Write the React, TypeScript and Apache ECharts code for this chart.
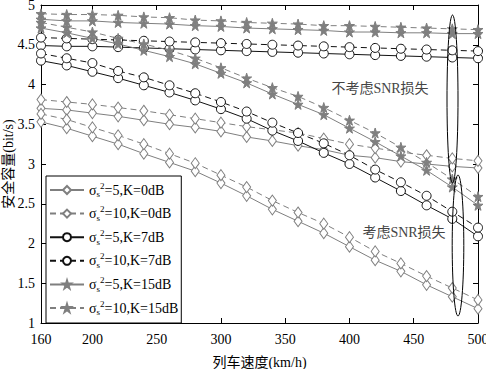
import React, { useEffect, useRef } from "react";
import * as echarts from "echarts";

const speeds = [160, 180, 200, 220, 240, 260, 280, 300, 320, 340, 360, 380, 400, 420, 440, 460, 480, 500];
const xTicks = [160, 200, 250, 300, 350, 400, 450, 500];

const s5k0Ideal = [3.70, 3.68, 3.64, 3.60, 3.55, 3.50, 3.46, 3.41, 3.34, 3.29, 3.23, 3.18, 3.11, 3.08, 3.03, 3.00, 2.97, 2.95];
const s10k0Ideal = [3.81, 3.78, 3.75, 3.71, 3.67, 3.62, 3.57, 3.52, 3.47, 3.43, 3.39, 3.32, 3.25, 3.20, 3.15, 3.11, 3.07, 3.04];
const s5k0Loss = [3.53, 3.45, 3.35, 3.25, 3.13, 3.02, 2.91, 2.76, 2.60, 2.43, 2.28, 2.13, 1.96, 1.79, 1.65, 1.48, 1.33, 1.18];
const s10k0Loss = [3.63, 3.56, 3.46, 3.36, 3.25, 3.13, 3.01, 2.86, 2.71, 2.54, 2.39, 2.25, 2.08, 1.90, 1.75, 1.59, 1.44, 1.29];
const s5k7Ideal = [4.49, 4.48, 4.48, 4.47, 4.46, 4.45, 4.44, 4.43, 4.42, 4.41, 4.40, 4.39, 4.38, 4.37, 4.36, 4.35, 4.34, 4.33];
const s10k7Ideal = [4.59, 4.58, 4.57, 4.56, 4.55, 4.54, 4.53, 4.52, 4.51, 4.50, 4.49, 4.48, 4.47, 4.46, 4.45, 4.44, 4.43, 4.42];
const s5k7Loss = [4.30, 4.24, 4.16, 4.08, 3.99, 3.90, 3.80, 3.69, 3.57, 3.42, 3.29, 3.14, 3.00, 2.83, 2.66, 2.48, 2.31, 2.09];
const s10k7Loss = [4.39, 4.33, 4.27, 4.17, 4.09, 3.99, 3.89, 3.78, 3.66, 3.52, 3.39, 3.26, 3.11, 2.93, 2.77, 2.60, 2.40, 2.20];
const s5k15Ideal = [4.82, 4.80, 4.80, 4.78, 4.77, 4.76, 4.74, 4.73, 4.71, 4.70, 4.69, 4.68, 4.66, 4.66, 4.65, 4.65, 4.64, 4.64];
const s10k15Ideal = [4.89, 4.88, 4.88, 4.87, 4.85, 4.84, 4.81, 4.80, 4.78, 4.77, 4.76, 4.74, 4.74, 4.73, 4.72, 4.71, 4.70, 4.69];
const s5k15Loss = [4.71, 4.65, 4.58, 4.51, 4.43, 4.35, 4.26, 4.14, 4.02, 3.88, 3.75, 3.62, 3.45, 3.28, 3.10, 2.92, 2.71, 2.48];
const s10k15Loss = [4.78, 4.72, 4.66, 4.58, 4.51, 4.43, 4.33, 4.21, 4.08, 3.96, 3.85, 3.71, 3.55, 3.39, 3.21, 3.02, 2.81, 2.59];

const legendNames = ["s5k0", "s10k0", "s5k7", "s10k7", "s5k15", "s10k15"];
const legendLabels: Record<string, [string, string]> = {
  s5k0: ["5", "0"],
  s10k0: ["10", "0"],
  s5k7: ["5", "7"],
  s10k7: ["10", "7"],
  s5k15: ["5", "15"],
  s10k15: ["10", "15"],
};

const FONT = "'Liberation Serif', 'Times New Roman', 'Noto Sans CJK SC', serif";
const GRAY = "#7f7f7f";
const BLACK = "#111111";
const STAR = "path://M50,0 L61,35 L98,35 L68,57 L79,91 L50,70 L21,91 L32,57 L2,35 L39,35 Z";

type Cfg = { name: string; data: number[]; color: string; dashed: boolean; symbol: string; size: any; fill: string };

const cfgs: Cfg[] = [
  { name: "s5k0", data: s5k0Ideal, color: GRAY, dashed: false, symbol: "diamond", size: [8, 11], fill: "#fff" },
  { name: "s5k0", data: s5k0Loss, color: GRAY, dashed: false, symbol: "diamond", size: [8, 11], fill: "#fff" },
  { name: "s10k0", data: s10k0Ideal, color: GRAY, dashed: true, symbol: "diamond", size: [8, 11], fill: "#fff" },
  { name: "s10k0", data: s10k0Loss, color: GRAY, dashed: true, symbol: "diamond", size: [8, 11], fill: "#fff" },
  { name: "s5k7", data: s5k7Ideal, color: BLACK, dashed: false, symbol: "circle", size: 9, fill: "#fff" },
  { name: "s5k7", data: s5k7Loss, color: BLACK, dashed: false, symbol: "circle", size: 9, fill: "#fff" },
  { name: "s10k7", data: s10k7Ideal, color: BLACK, dashed: true, symbol: "circle", size: 9, fill: "#fff" },
  { name: "s10k7", data: s10k7Loss, color: BLACK, dashed: true, symbol: "circle", size: 9, fill: "#fff" },
  { name: "s5k15", data: s5k15Ideal, color: GRAY, dashed: false, symbol: STAR, size: 10, fill: GRAY },
  { name: "s5k15", data: s5k15Loss, color: GRAY, dashed: false, symbol: STAR, size: 10, fill: GRAY },
  { name: "s10k15", data: s10k15Ideal, color: GRAY, dashed: true, symbol: STAR, size: 10, fill: GRAY },
  { name: "s10k15", data: s10k15Loss, color: GRAY, dashed: true, symbol: STAR, size: 10, fill: GRAY },
];

export default function App() {
  const ref = useRef<HTMLDivElement>(null);
  useEffect(() => {
    document.body.style.margin = "0";
    if (!ref.current) return;
    const chart = echarts.init(ref.current, undefined, { renderer: "svg" });
    const series = cfgs.map((c) => ({
      type: "line",
      name: c.name,
      data: speeds.map((x, i) => [x, c.data[i]]),
      symbol: c.symbol,
      symbolSize: c.size,
      showAllSymbol: true,
      lineStyle: { color: c.color, width: 1, type: c.dashed ? [6, 4] : "solid" },
      itemStyle: { color: c.fill, borderColor: c.color, borderWidth: 1 },
      emphasis: { disabled: true },
    }));
    chart.setOption({
      animation: false,
      textStyle: { fontFamily: FONT },
      grid: { left: 41, right: 8, top: 5, bottom: 46, outerBoundsMode: "none", containLabel: false },
      xAxis: [
        {
          type: "value",
          min: 160,
          max: 500,
          name: "列车速度(km/h)",
          nameLocation: "middle",
          nameGap: 32,
          nameMoveOverlap: false,
          nameTextStyle: { fontSize: 14, color: "#000", fontFamily: FONT },
          axisLine: { lineStyle: { color: "#000", width: 1 } },
          axisTick: { inside: true, length: 5, customValues: xTicks, lineStyle: { color: "#000" } },
          axisLabel: { customValues: xTicks, fontSize: 14, color: "#000", margin: 9, fontFamily: FONT },
          splitLine: { show: false },
        },
        {
          type: "value",
          position: "top",
          min: 160,
          max: 500,
          axisLine: { show: true, onZero: false, lineStyle: { color: "#000", width: 1 } },
          axisTick: { inside: true, length: 5, customValues: xTicks, lineStyle: { color: "#000" } },
          axisLabel: { show: false },
          splitLine: { show: false },
        },
      ],
      yAxis: [
        {
          type: "value",
          min: 1,
          max: 5,
          interval: 0.5,
          name: "安全容量(bit/s)",
          nameLocation: "middle",
          nameGap: 26,
          nameMoveOverlap: false,
          nameTextStyle: { fontSize: 14, color: "#000", fontFamily: FONT },
          axisLine: { show: true, lineStyle: { color: "#000", width: 1 } },
          axisTick: { show: true, inside: true, length: 5, lineStyle: { color: "#000" } },
          axisLabel: { fontSize: 14, color: "#000", margin: 6, fontFamily: FONT },
          splitLine: { show: false },
        },
        {
          type: "value",
          position: "right",
          min: 1,
          max: 5,
          interval: 0.5,
          axisLine: { show: true, onZero: false, lineStyle: { color: "#000", width: 1 } },
          axisTick: { show: true, inside: true, length: 5, lineStyle: { color: "#000" } },
          axisLabel: { show: false },
          splitLine: { show: false },
        },
      ],
      legend: {
        data: legendNames,
        orient: "vertical",
        left: 46,
        top: 176,
        itemWidth: 34,
        itemHeight: 10,
        itemGap: 5.6,
        padding: [5, 3, 6, 3],
        backgroundColor: "#fff",
        borderColor: "#000",
        borderWidth: 1,
        borderRadius: 0,
        selectedMode: false,
        formatter: (name: string) => {
          const [s, k] = legendLabels[name];
          return `{t|σ}{sub|s}{sup|2}{t|=${s},K=${k}dB}`;
        },
        textStyle: {
          fontFamily: FONT,
          color: "#000",
          rich: {
            t: { fontSize: 14, fontFamily: FONT, color: "#000", lineHeight: 18 },
            sub: { fontSize: 9, fontFamily: FONT, color: "#000", lineHeight: 9, verticalAlign: "bottom" },
            sup: { fontSize: 9, fontFamily: FONT, color: "#000", lineHeight: 9, verticalAlign: "top" },
          },
        },
      },
      graphic: [
        {
          type: "ellipse",
          shape: { cx: 452.5, cy: 99, rx: 5.5, ry: 84 },
          style: { fill: "none", stroke: "#000", lineWidth: 1 },
          z: 100,
        },
        {
          type: "ellipse",
          shape: { cx: 458, cy: 245.5, rx: 5.8, ry: 70.5 },
          style: { fill: "none", stroke: "#000", lineWidth: 1 },
          z: 100,
        },
        {
          type: "text",
          x: 380,
          y: 88,
          style: { text: "不考虑SNR损失", fontSize: 14, fontFamily: FONT, fill: "#444", align: "center", verticalAlign: "middle" },
          z: 100,
        },
        {
          type: "text",
          x: 404,
          y: 232,
          style: { text: "考虑SNR损失", fontSize: 14, fontFamily: FONT, fill: "#444", align: "center", verticalAlign: "middle" },
          z: 100,
        },
      ],
      series,
    });
    return () => chart.dispose();
  }, []);
  return <div ref={ref} style={{ width: 486, height: 369 }} />;
}
